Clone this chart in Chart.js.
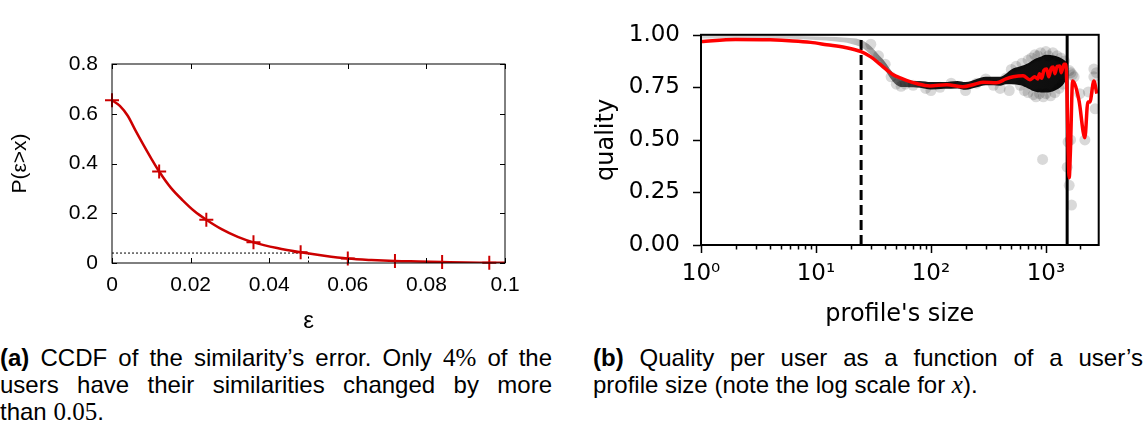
<!DOCTYPE html>
<html><head><meta charset="utf-8">
<script src="https://cdn.jsdelivr.net/npm/chart.js@4"></script>
<style>
html,body{margin:0;padding:0;background:#fff;}
body{width:1147px;height:438px;position:relative;overflow:hidden;}
#c1{position:absolute;left:0;top:0;}
#c2{position:absolute;left:560px;top:0;}
.cap{position:absolute;font-family:"Liberation Sans",Arial,sans-serif;font-size:24px;line-height:27px;color:#000;}
.cap .j{text-align:justify;text-align-last:justify;white-space:nowrap;}
.cap .l{text-align:left;white-space:nowrap;}
.m{font-family:"Liberation Serif","Times New Roman",serif;font-size:25px;}
</style></head>
<body>
<canvas id="c1" width="560" height="340"></canvas>
<canvas id="c2" width="587" height="340"></canvas>
<div class="cap" style="left:0;top:344px;width:552px;">
  <div class="j"><b>(a)</b> CCDF of the similarity’s error. Only <span class="m">4%</span> of the</div>
  <div class="j">users have their similarities changed by more</div>
  <div class="l">than <span class="m">0.05</span>.</div>
</div>
<div class="cap" style="left:593px;top:344px;width:550px;">
  <div class="j"><b>(b)</b> Quality per user as a function of a user’s</div>
  <div class="l">profile size (note the log scale for <i class="m">x</i>).</div>
</div>
<script>
// ---------- (a) CCDF of similarity error ----------
const ccdfEps  = [0, 0.012, 0.024, 0.036, 0.048, 0.060, 0.072, 0.084, 0.096];
const ccdfProb = [0.654, 0.368, 0.174, 0.083, 0.043, 0.018, 0.008, 0.004, 0.001];
const curveEps  = [0, 0.002, 0.004, 0.006, 0.008, 0.010, 0.012, 0.015, 0.018, 0.021, 0.024, 0.028, 0.032, 0.036, 0.042, 0.048, 0.054, 0.060, 0.066, 0.072, 0.078, 0.084, 0.090, 0.096, 0.100];
const curveProb = [0.654, 0.632, 0.592, 0.532, 0.475, 0.420, 0.368, 0.302, 0.252, 0.208, 0.174, 0.135, 0.105, 0.083, 0.060, 0.043, 0.029, 0.018, 0.012, 0.008, 0.006, 0.004, 0.002, 0.001, 0.001];
const refEps  = [0, 0.05, 0.05];
const refProb = [0.04, 0.04, 0];
const leftXTicks = [0, 0.02, 0.04, 0.06, 0.08, 0.1];
const leftXTickLabels = ['0', '0.02', '0.04', '0.06', '0.08', '0.1'];
const leftYTicks = [0, 0.2, 0.4, 0.6, 0.8];
const leftYTickLabels = ['0', '0.2', '0.4', '0.6', '0.8'];

// ---------- (b) quality vs profile size ----------
const sizeX   = [1, 2, 4, 6.3, 9, 12.4, 18, 24.7, 30, 36, 42, 47, 54, 62, 75, 98, 137, 190, 240, 285, 372, 450, 520, 634, 726, 800, 850, 880, 920, 960, 1014, 1060, 1110, 1157, 1200, 1250, 1320, 1360, 1436, 1493, 1595, 1633, 1708, 1936, 2183, 2318, 2414, 2614, 2773];
const quality = [0.968, 0.978, 0.976, 0.971, 0.964, 0.953, 0.94, 0.92, 0.895, 0.86, 0.83, 0.81, 0.795, 0.782, 0.768, 0.757, 0.762, 0.753, 0.765, 0.774, 0.772, 0.79, 0.80, 0.805, 0.786, 0.80, 0.79, 0.815, 0.793, 0.83, 0.837, 0.80, 0.84, 0.847, 0.815, 0.85, 0.851, 0.82, 0.86, 0.86, 0.32, 0.44, 0.78, 0.69, 0.51, 0.68, 0.68, 0.78, 0.72];
const bandX    = [1, 2, 4, 7, 10, 15, 20, 25, 30, 35, 40, 45, 50, 55, 60, 70, 80, 100, 130, 170, 200, 250, 300, 350, 400, 450, 500, 600, 700, 800, 900, 1000, 1200, 1400, 1520];
const bandHigh = [0.995, 0.996, 0.995, 0.994, 0.992, 0.99, 0.985, 0.975, 0.945, 0.905, 0.87, 0.83, 0.80, 0.79, 0.785, 0.78, 0.78, 0.775, 0.775, 0.78, 0.775, 0.79, 0.80, 0.80, 0.80, 0.815, 0.835, 0.85, 0.865, 0.885, 0.895, 0.905, 0.9, 0.885, 0.87];
const bandLow  = [0.982, 0.984, 0.983, 0.98, 0.975, 0.968, 0.958, 0.94, 0.905, 0.865, 0.83, 0.79, 0.762, 0.752, 0.752, 0.75, 0.748, 0.74, 0.743, 0.745, 0.738, 0.75, 0.76, 0.76, 0.758, 0.765, 0.765, 0.76, 0.745, 0.73, 0.725, 0.725, 0.735, 0.76, 0.79];
const haloX = [30, 35, 40, 45, 50, 55, 60, 70, 90, 100, 120, 150, 200, 250, 300, 350, 400, 450, 480, 500, 550, 600, 620, 650, 700, 700, 750, 780, 800, 820, 850, 880, 900, 950, 1000, 1000, 1050, 1100, 1150, 1200, 1250, 1300, 1350, 1400, 1450, 936, 1531, 1595, 1672, 1560, 1640, 1700, 1760, 1970, 2183, 2341, 2614, 2614, 2680, 2750, 1600, 1650];
const haloY = [0.955, 0.90, 0.86, 0.80, 0.765, 0.755, 0.765, 0.76, 0.745, 0.735, 0.75, 0.77, 0.735, 0.77, 0.79, 0.76, 0.745, 0.795, 0.735, 0.835, 0.85, 0.76, 0.865, 0.735, 0.88, 0.725, 0.89, 0.715, 0.905, 0.705, 0.90, 0.72, 0.915, 0.705, 0.92, 0.72, 0.90, 0.71, 0.915, 0.725, 0.90, 0.745, 0.89, 0.765, 0.875, 0.407, 0.37, 0.284, 0.19, 0.49, 0.50, 0.81, 0.80, 0.72, 0.50, 0.728, 0.837, 0.80, 0.648, 0.82, 0.83, 0.82];
const thresholdDashed = 24.7;
const thresholdSolid = 1531;
const rightXTicks = [1, 10, 100, 1000];
const rightXTickLabels = ['10⁰', '10¹', '10²', '10³'];
const rightYTicks = [0, 0.25, 0.5, 0.75, 1.0];
const rightYTickLabels = ['0.00', '0.25', '0.50', '0.75', '1.00'];

const pts = (xs, ys) => xs.map((x, i) => ({x: x, y: ys[i]}));

const framePlugin = {
  id: 'axisFrame',
  afterDatasetsDraw(chart, args, o) {
    const {ctx, chartArea: a, scales} = chart;
    ctx.save();
    ctx.strokeStyle = '#000';
    ctx.lineCap = 'butt';
    ctx.lineWidth = o.tickWidth;
    ctx.beginPath();
    for (const t of o.xMarks) {
      const px = Math.round(scales.x.getPixelForValue(t.v)) + 0.5;
      if (o.inward) {
        ctx.moveTo(px, a.bottom); ctx.lineTo(px, a.bottom - t.len);
        ctx.moveTo(px, a.top); ctx.lineTo(px, a.top + t.len);
      } else {
        ctx.moveTo(px, a.bottom); ctx.lineTo(px, a.bottom + t.len);
      }
    }
    for (const t of o.yMarks) {
      const py = Math.round(scales.y.getPixelForValue(t.v)) + 0.5;
      if (o.inward) {
        ctx.moveTo(a.left, py); ctx.lineTo(a.left + t.len, py);
        ctx.moveTo(a.right, py); ctx.lineTo(a.right - t.len, py);
      } else {
        ctx.moveTo(a.left, py); ctx.lineTo(a.left - t.len, py);
      }
    }
    ctx.stroke();
    ctx.lineWidth = o.borderWidth;
    ctx.strokeRect(a.left, a.top, a.right - a.left, a.bottom - a.top);
    ctx.restore();
  }
};

// ---------- chart (a) ----------
const fontA = {family: '"Liberation Sans", Arial, sans-serif', size: 21};
new Chart(document.getElementById('c1'), {
  type: 'scatter',
  data: {
    datasets: [
      {data: pts(ccdfEps, ccdfProb), showLine: false, pointStyle: 'cross', pointRadius: 7, pointBorderWidth: 2, borderColor: '#cc0000', backgroundColor: '#cc0000', clip: false, order: 1},
      {data: pts(curveEps, curveProb), showLine: true, borderColor: '#cc0000', borderWidth: 2.5, pointRadius: 0, cubicInterpolationMode: 'monotone', order: 2},
      {data: pts(refEps, refProb), showLine: true, borderColor: '#000', borderWidth: 1, borderDash: [2, 2], pointRadius: 0, order: 3}
    ]
  },
  options: {
    responsive: false, animation: false, devicePixelRatio: 1,
    layout: {padding: {left: 0, top: 64, right: 55, bottom: 0}},
    plugins: {
      legend: {display: false}, tooltip: {enabled: false},
      axisFrame: {inward: true, tickWidth: 1, borderWidth: 1,
        xMarks: leftXTicks.map(v => ({v: v, len: 5})),
        yMarks: leftYTicks.map(v => ({v: v, len: 5}))}
    },
    scales: {
      x: {type: 'linear', min: 0, max: 0.1,
        afterBuildTicks: s => { s.ticks = leftXTicks.map(v => ({value: v})); },
        afterFit: s => { s.height = 77; },
        ticks: {callback: (v, i) => leftXTickLabels[i], font: fontA, color: '#000', padding: 10, maxRotation: 0, autoSkip: false},
        grid: {display: false, drawTicks: false}, border: {display: false},
        title: {display: true, text: 'ε', font: {family: fontA.family, size: 24}, color: '#000', padding: {top: 0, bottom: 4}}},
      y: {type: 'linear', min: 0, max: 0.8,
        afterBuildTicks: s => { s.ticks = leftYTicks.map(v => ({value: v})); },
        afterFit: s => { s.width = 112; },
        ticks: {callback: (v, i) => leftYTickLabels[i], font: fontA, color: '#000', padding: 14, autoSkip: false},
        grid: {display: false, drawTicks: false}, border: {display: false},
        title: {display: true, text: 'P(ε>x)', font: {family: fontA.family, size: 21}, color: '#000', padding: {top: 7.4, bottom: 0}}}
    }
  },
  plugins: [framePlugin]
});

// ---------- chart (b) ----------
const fontB = {family: '"DejaVu Sans", sans-serif', size: 23};
const minorX = [];
for (let d = 1; d <= 1000; d *= 10) for (let k = 2; k <= 9; k++) { if (k * d <= 2880) minorX.push(k * d); }
const bandStops = [[1, 'rgba(205,205,205,0.85)'], [20, 'rgba(190,190,190,0.9)'], [30, 'rgba(155,155,155,0.9)'], [50, 'rgba(95,95,95,0.95)'], [90, 'rgba(25,25,25,1)'], [2880, 'rgba(10,10,10,1)']];
function bandFill(ctx) {
  const c = ctx.chart, ca = c.chartArea;
  if (!ca || !c.scales.x) return 'rgba(0,0,0,0.6)';
  const g = c.ctx.createLinearGradient(ca.left, 0, ca.right, 0);
  for (const [v, col] of bandStops) {
    const f = (c.scales.x.getPixelForValue(v) - ca.left) / (ca.right - ca.left);
    g.addColorStop(Math.min(1, Math.max(0, f)), col);
  }
  return g;
}
new Chart(document.getElementById('c2'), {
  type: 'scatter',
  data: {
    datasets: [
      {data: pts(sizeX, quality), showLine: true, borderColor: '#ff0000', borderWidth: 3.5, pointRadius: 0, cubicInterpolationMode: 'monotone', order: 1},
      {data: [{x: thresholdDashed, y: 0}, {x: thresholdDashed, y: 1}], showLine: true, borderColor: '#000', borderWidth: 3, borderDash: [10, 5], pointRadius: 0, order: 2},
      {data: [{x: thresholdSolid, y: 0}, {x: thresholdSolid, y: 1}], showLine: true, borderColor: '#000', borderWidth: 3, pointRadius: 0, order: 2},
      {data: pts(haloX, haloY), showLine: false, pointRadius: 5.5, pointBorderWidth: 0, backgroundColor: 'rgba(0,0,0,0.15)', borderColor: 'rgba(0,0,0,0)', order: 3},
      {data: pts(bandX, bandHigh), showLine: true, borderWidth: 0, borderColor: 'rgba(0,0,0,0)', pointRadius: 0, fill: '+1', backgroundColor: bandFill, cubicInterpolationMode: 'monotone', order: 4},
      {data: pts(bandX, bandLow), showLine: true, borderWidth: 0, borderColor: 'rgba(0,0,0,0)', pointRadius: 0, fill: false, cubicInterpolationMode: 'monotone', order: 5}
    ]
  },
  options: {
    responsive: false, animation: false, devicePixelRatio: 1,
    layout: {padding: {left: 0, top: 16, right: 48.3, bottom: 0}},
    plugins: {
      legend: {display: false}, tooltip: {enabled: false},
      filler: {propagate: false},
      axisFrame: {inward: false, tickWidth: 1.5, borderWidth: 2,
        xMarks: rightXTicks.map(v => ({v: v, len: 8})).concat(minorX.map(v => ({v: v, len: 4.5}))),
        yMarks: rightYTicks.map(v => ({v: v, len: 8}))}
    },
    scales: {
      x: {type: 'logarithmic', min: 1, max: 2880,
        afterBuildTicks: s => { s.ticks = rightXTicks.map(v => ({value: v})); },
        afterFit: s => { s.height = 95; },
        ticks: {callback: (v, i) => rightXTickLabels[i], font: fontB, color: '#000', padding: 15, maxRotation: 0, autoSkip: false},
        grid: {display: false, drawTicks: false}, border: {display: false},
        title: {display: true, text: "profile's size", font: {family: fontB.family, size: 24}, color: '#000', padding: {top: 0, bottom: 11}}},
      y: {type: 'linear', min: 0, max: 1,
        afterBuildTicks: s => { s.ticks = rightYTicks.map(v => ({value: v})); },
        afterFit: s => { s.width = 141; },
        ticks: {callback: (v, i) => rightYTickLabels[i], font: fontB, color: '#000', padding: 21, autoSkip: false},
        grid: {display: false, drawTicks: false}, border: {display: false},
        title: {display: true, text: 'quality', font: {family: fontB.family, size: 24}, color: '#000', padding: {top: 32.3, bottom: 0}}}
    }
  },
  plugins: [framePlugin]
});
</script>
</body></html>
